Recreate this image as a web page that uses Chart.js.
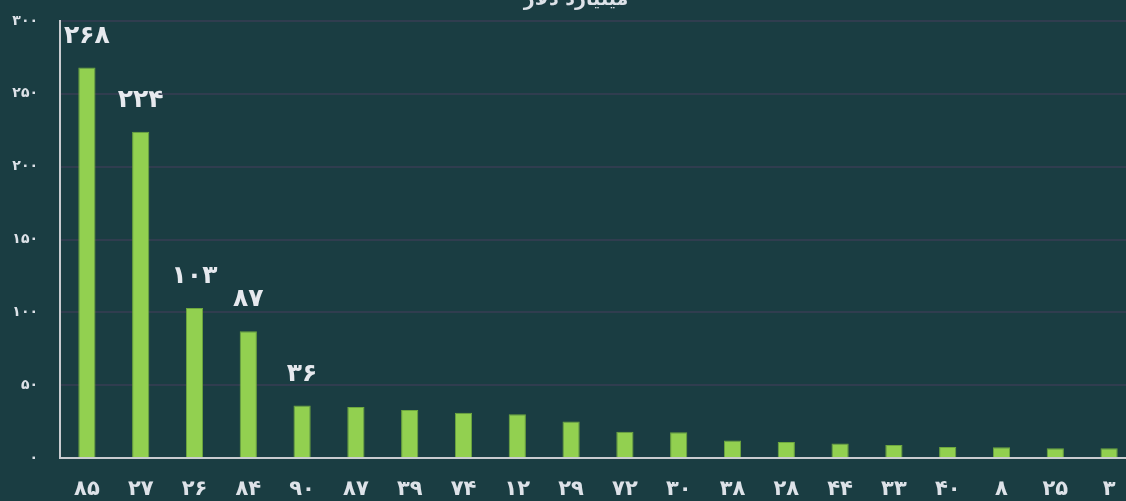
<!DOCTYPE html>
<html>
<head>
<meta charset="utf-8">
<script src="https://cdn.jsdelivr.net/npm/chart.js@4"></script>
<style>
  html, body { margin: 0; padding: 0; background: #1a3d42; overflow: hidden; width: 1126px; height: 501px; }
  #wrap { position: absolute; left: 0; top: 0; width: 1136px; height: 501px; }
</style>
</head>
<body>
<div id="wrap"><canvas id="c"></canvas></div>
<script>
const titleText = 'میلیارد دلار';
const categories = ['۸۵','۲۷','۲۶','۸۴','۹۰','۸۷','۳۹','۷۴','۱۲','۲۹','۷۲','۳۰','۳۸','۲۸','۴۴','۳۳','۴۰','۸','۲۵','۳'];
const values = [268, 224, 103, 87, 36, 35, 33, 31, 30, 25, 18, 17.6, 12, 11, 10, 9, 7.6, 7.3, 6.7, 6.7];
const labelledCount = 5;
const yTicks = [0, 50, 100, 150, 200, 250, 300];

const faDigits = ['۰','۱','۲','۳','۴','۵','۶','۷','۸','۹'];
const toFa = n => String(n).replace(/[0-9]/g, d => faDigits[+d]);

const FONT = '"DejaVu Sans", sans-serif';

const bgPlugin = {
  id: 'bg',
  beforeDraw(chart) {
    const ctx = chart.ctx;
    ctx.save();
    ctx.fillStyle = '#1a3d42';
    ctx.fillRect(0, 0, chart.width, chart.height);
    ctx.restore();
  }
};

const titlePlugin = {
  id: 'cutTitle',
  afterDraw(chart) {
    const ctx = chart.ctx;
    ctx.save();
    ctx.font = 'bold 19px ' + FONT;
    ctx.fillStyle = '#dde2e8';
    ctx.textAlign = 'center';
    ctx.textBaseline = 'alphabetic';
    ctx.fillText(titleText, 576, 5);
    ctx.restore();
  }
};

const valueLabels = {
  id: 'valueLabels',
  afterDatasetsDraw(chart) {
    const ctx = chart.ctx;
    const meta = chart.getDatasetMeta(0);
    ctx.save();
    ctx.font = 'bold 25px ' + FONT;
    ctx.fillStyle = '#e6e9ee';
    ctx.textAlign = 'center';
    ctx.textBaseline = 'alphabetic';
    meta.data.forEach((bar, i) => {
      if (i < labelledCount) {
        ctx.fillText(toFa(values[i]), bar.x, bar.y - 25);
      }
    });
    ctx.restore();
  }
};

new Chart(document.getElementById('c'), {
  type: 'bar',
  data: {
    labels: categories,
    datasets: [{
      data: values,
      backgroundColor: '#92d050',
      borderColor: '#6ea83e',
      borderWidth: 1,
      barPercentage: 0.32,
      categoryPercentage: 1.0
    }]
  },
  options: {
    responsive: true,
    maintainAspectRatio: false,
    animation: false,
    devicePixelRatio: 1,
    layout: { padding: { top: 21, right: 0, left: 0, bottom: 0 } },
    plugins: {
      legend: { display: false },
      tooltip: { enabled: false },
      title: { display: false }
    },
    scales: {
      x: {
        grid: { display: false, drawTicks: false },
        border: { display: true, color: '#c9ccd0', width: 2 },
        ticks: {
          color: '#dde2e8',
          font: { family: FONT, size: 21, weight: 'bold' },
          padding: 19,
          maxRotation: 0,
          autoSkip: false
        },
        afterFit(s) { s.height = 43; s.paddingLeft = 0; s.paddingRight = 0; }
      },
      y: {
        min: 0,
        max: 300,
        afterBuildTicks(s) { s.ticks = yTicks.map(v => ({ value: v })); },
        grid: { color: '#303d4f', lineWidth: 2, drawTicks: false },
        border: { display: true, color: '#c9ccd0', width: 2 },
        ticks: {
          color: '#dde2e8',
          font: { family: FONT, size: 14, weight: 'bold' },
          padding: 22,
          callback: v => toFa(v)
        },
        afterFit(s) { s.width = 60; s.paddingTop = 0; s.paddingBottom = 0; }
      }
    }
  },
  plugins: [bgPlugin, valueLabels, titlePlugin]
});
</script>
</body>
</html>
